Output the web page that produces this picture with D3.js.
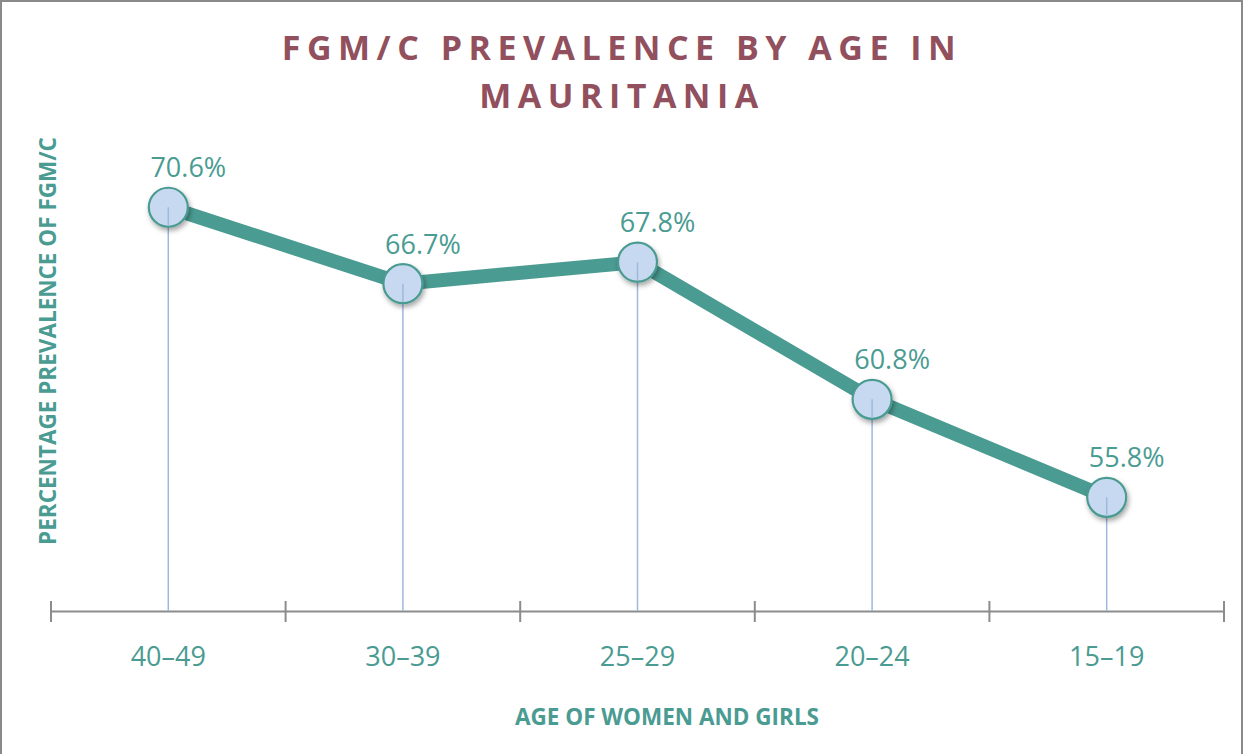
<!DOCTYPE html>
<html>
<head>
<meta charset="utf-8">
<script src="https://cdn.jsdelivr.net/npm/d3@7"></script>
<style>
  html, body { margin: 0; padding: 0; background: #fff; }
  svg { display: block; }
</style>
</head>
<body>
<svg id="chart" width="1247" height="754"></svg>
<script>
const categories = ["40–49", "30–39", "25–29", "20–24", "15–19"];
const values = [70.6, 66.7, 67.8, 60.8, 55.8];
const valueLabels = ["70.6%", "66.7%", "67.8%", "60.8%", "55.8%"];
const titleLines = ["FGM/C PREVALENCE BY AGE IN", "MAURITANIA"];
const xTitle = "AGE OF WOMEN AND GIRLS";
const yTitle = "PERCENTAGE PREVALENCE OF FGM/C";

const W = 1247, H = 754;
const teal = "#4a9b92", maroon = "#924f5d", dropBlue = "#9db9de", fillBlue = "#c7d9f0";
const font = "'Open Sans', 'Noto Sans', sans-serif";
const svg = d3.select("#chart");

const defs = svg.append("defs");
const f = defs.append("filter").attr("id", "sh").attr("x", "-50%").attr("y", "-50%").attr("width", "200%").attr("height", "200%");
f.append("feDropShadow").attr("dx", 1.5).attr("dy", 3).attr("stdDeviation", 2.5).attr("flood-color", "#000").attr("flood-opacity", 0.35);

// frame
svg.append("rect").attr("x", 1).attr("y", 1).attr("width", 1241).attr("height", 760)
  .attr("fill", "none").attr("stroke", "#8a8a8a").attr("stroke-width", 2);

const x = d3.scaleBand().domain(categories).range([51, 1224]).padding(0);
const y = d3.scaleLinear().domain([50, 75]).range([611, 121]);

// title
svg.append("text").attr("x", 622).attr("y", 60).attr("text-anchor", "middle")
  .attr("font-family", font).attr("font-weight", 700).attr("font-size", 34)
  .attr("letter-spacing", 6.5).attr("fill", maroon)
  .selectAll("tspan").data(titleLines).join("tspan")
  .attr("x", 622).attr("dy", (d, i) => i === 0 ? 0 : 48).text(d => d);

// x axis
const xAxis = d3.axisBottom(x).tickSize(0).tickPadding(0).tickFormat("");
const gx = svg.append("g").attr("transform", "translate(0,611)").call(xAxis);
gx.select(".domain").attr("stroke", "#8c8c8c").attr("stroke-width", 2);
const bounds = categories.map(c => x(c)).concat([x.range()[1]]);
gx.selectAll(".bt").data(bounds).join("line").attr("class", "bt")
  .attr("x1", d => d).attr("x2", d => d).attr("y1", -10).attr("y2", 11)
  .attr("stroke", "#8c8c8c").attr("stroke-width", 2);
gx.selectAll(".lab").data(categories).join("text").attr("class", "lab")
  .attr("x", d => x(d) + x.bandwidth() / 2).attr("y", 55)
  .attr("text-anchor", "middle").attr("font-family", font).attr("font-size", 27)
  .attr("fill", teal).text(d => d);

// axis titles
svg.append("text").attr("x", 667).attr("y", 725).attr("text-anchor", "middle")
  .attr("font-family", font).attr("font-weight", 700).attr("font-size", 22.5)
  .attr("fill", teal).text(xTitle);
svg.append("text").attr("transform", "translate(56,341) rotate(-90)").attr("text-anchor", "middle")
  .attr("font-family", font).attr("font-weight", 700).attr("font-size", 22.5)
  .attr("fill", teal).text(yTitle);

const data = categories.map((c, i) => ({ c, v: values[i], l: valueLabels[i] }));
const cx = d => x(d.c) + x.bandwidth() / 2;

// drop lines
svg.selectAll(".drop").data(data).join("line").attr("class", "drop")
  .attr("x1", cx).attr("x2", cx).attr("y1", d => y(d.v)).attr("y2", y(50))
  .attr("stroke", dropBlue).attr("stroke-width", 1.5);

// line
svg.append("path").datum(data)
  .attr("d", d3.line().x(cx).y(d => y(d.v)))
  .attr("fill", "none").attr("stroke", teal).attr("stroke-width", 14).attr("stroke-linejoin", "round");

// markers
svg.selectAll(".pt").data(data).join("circle").attr("class", "pt")
  .attr("cx", cx).attr("cy", d => y(d.v)).attr("r", 19.5)
  .attr("fill", fillBlue).attr("stroke", teal).attr("stroke-width", 2.2).attr("filter", "url(#sh)");
// drop line visible inside marker
svg.selectAll(".drop2").data(data).join("line").attr("class", "drop2")
  .attr("x1", cx).attr("x2", cx).attr("y1", d => y(d.v)).attr("y2", d => y(d.v) + 18)
  .attr("stroke", dropBlue).attr("stroke-width", 1.5);

// value labels
svg.selectAll(".vl").data(data).join("text").attr("class", "vl")
  .attr("x", d => cx(d) + 20).attr("y", d => y(d.v) - 30)
  .attr("text-anchor", "middle").attr("font-family", font).attr("font-size", 27)
  .attr("fill", teal).text(d => d.l);
</script>
</body>
</html>
